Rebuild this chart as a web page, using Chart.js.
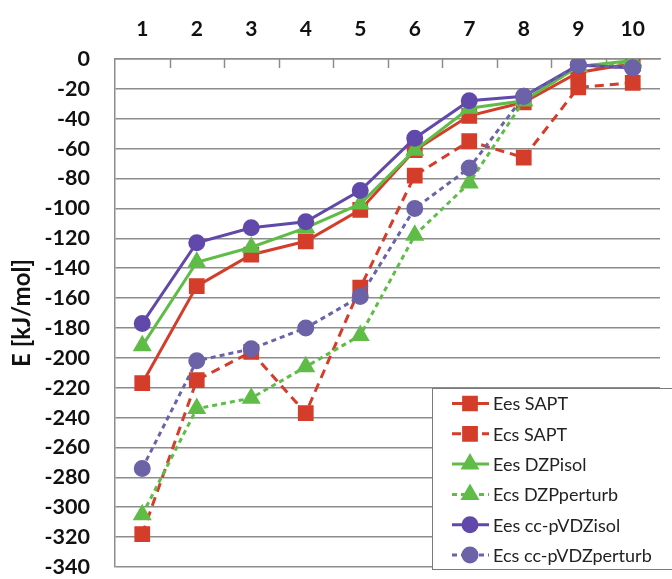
<!DOCTYPE html>
<html lang="en">
<head>
    <meta charset="UTF-8">
    <title>E [kJ/mol]</title>
    <script src="https://cdn.jsdelivr.net/npm/chart.js"></script>
    <style>
        body {
            margin: 0;
            padding: 0;
            background: white;
        }
        #wrap {
            width: 672px;
            height: 579px;
        }
    </style>
</head>
<body>
<div id="wrap">
    <canvas id="energyChart" width="672" height="579"></canvas>
</div>

<script>
    const categories = ["1", "2", "3", "4", "5", "6", "7", "8", "9", "10"];
    const seriesNames = ["Ees SAPT", "Ecs SAPT", "Ees DZPisol", "Ecs DZPperturb", "Ees cc-pVDZisol", "Ecs cc-pVDZperturb"];
    const eesSapt = [-217, -152, -131, -122, -101, -61, -38, -29, -9, -3];
    const ecsSapt = [-318, -215, -196, -237, -153, -78, -55, -66, -19, -16];
    const eesDzp = [-192, -136, -126, -113, -97, -61, -33, -28, -5, -1];
    const ecsDzp = [-305, -234, -227, -206, -185, -118, -83, -28, -5, -2];
    const eesCc = [-177, -123, -113, -109, -88, -53, -28, -25, -4, -6];
    const ecsCc = [-274, -202, -194, -180, -159, -100, -73, -25, -4, -6];
    const yTicks = [0, -20, -40, -60, -80, -100, -120, -140, -160, -180, -200, -220, -240, -260, -280, -300, -320, -340];

    const red = "#d43d2a";
    const green = "#5fbd47";
    const purple = "#6049aa";
    const purple2 = "#6b62a8";
    const gridGray = "#8c8c8c";

    function makeSet(i, data, color, dash, shape, radius) {
        return {
            label: seriesNames[i],
            data: data,
            borderColor: color,
            backgroundColor: color,
            pointBackgroundColor: color,
            pointBorderColor: color,
            borderWidth: 3,
            borderDash: dash,
            pointStyle: shape,
            pointRadius: radius,
            pointHoverRadius: radius,
            tension: 0,
            order: 10 - i
        };
    }

    const datasets = [
        makeSet(0, eesSapt, red, [], "rect", 9),
        makeSet(1, ecsSapt, red, [9, 6], "rect", 9),
        makeSet(2, eesDzp, green, [], "triangle", 8),
        makeSet(3, ecsDzp, green, [5, 4], "triangle", 8),
        makeSet(4, eesCc, purple, [], "circle", 7),
        makeSet(5, ecsCc, purple2, [5, 4], "circle", 7)
    ];

    // tick marks on the top axis point down into the plot
    const innerTicks = {
        id: "innerTicks",
        beforeDatasetsDraw(chart) {
            const xs = chart.scales.x;
            const ctx = chart.ctx;
            const top = chart.chartArea.top;
            ctx.save();
            ctx.strokeStyle = gridGray;
            ctx.lineWidth = 1.5;
            for (let i = 1; i < categories.length; i++) {
                const x = Math.round((xs.getPixelForValue(i - 1) + xs.getPixelForValue(i)) / 2) + 0.5;
                ctx.beginPath();
                ctx.moveTo(x, top);
                ctx.lineTo(x, top + 9);
                ctx.stroke();
            }
            ctx.restore();
        }
    };

    // boxed legend in the lower right corner
    const boxLegend = {
        id: "boxLegend",
        afterDraw(chart) {
            const ctx = chart.ctx;
            const left = 432.5, top = 388.5, right = 680, bottom = 569.5;
            const rowGap = 30.3;
            ctx.save();
            ctx.fillStyle = "white";
            ctx.fillRect(left, top, right - left, bottom - top);
            ctx.strokeStyle = "#7a7a7a";
            ctx.lineWidth = 1;
            ctx.strokeRect(left, top, right - left, bottom - top);
            chart.data.datasets.forEach((ds, i) => {
                const y = top + 15 + i * rowGap;
                ctx.strokeStyle = ds.borderColor;
                ctx.lineWidth = 3;
                ctx.setLineDash(ds.borderDash.length ? ds.borderDash : []);
                ctx.beginPath();
                ctx.moveTo(452, y);
                ctx.lineTo(489, y);
                ctx.stroke();
                ctx.setLineDash([]);
                Chart.helpers.drawPoint(ctx, {
                    pointStyle: ds.pointStyle,
                    radius: ds.pointRadius,
                    borderWidth: 1,
                    rotation: 0
                }, 470, y);
                ctx.fillStyle = ds.borderColor;
                ctx.fill();
                ctx.fillStyle = "#222";
                ctx.font = "18px Lato";
                ctx.textBaseline = "middle";
                ctx.textAlign = "left";
                ctx.fillText(ds.label, 493, y + 1);
            });
            ctx.restore();
        }
    };

    new Chart(document.getElementById("energyChart").getContext("2d"), {
        type: "line",
        data: { labels: categories, datasets: datasets },
        options: {
            responsive: false,
            animation: false,
            layout: { padding: { left: 0, right: -3, top: 0, bottom: 10 } },
            plugins: {
                legend: { display: false },
                tooltip: { enabled: false }
            },
            scales: {
                x: {
                    position: "top",
                    offset: true,
                    grid: { display: false, drawTicks: false },
                    border: { display: true, color: gridGray, width: 1.5 },
                    ticks: {
                        color: "#111",
                        font: { family: "Lato", size: 21, weight: "bold" },
                        padding: 17
                    },
                    afterFit(scale) {
                        scale.height = 59;
                        scale.paddingLeft = 0;
                        scale.paddingRight = 0;
                    }
                },
                y: {
                    min: -340,
                    max: 0,
                    afterBuildTicks(scale) {
                        scale.ticks = yTicks.map(v => ({ value: v }));
                    },
                    grid: { color: gridGray, lineWidth: 1.5, drawTicks: false },
                    border: { display: true, color: gridGray, width: 1.5 },
                    ticks: {
                        color: "#111",
                        font: { family: "Lato", size: 21.5, weight: "bold" },
                        padding: 25
                    },
                    title: {
                        display: true,
                        text: "E [kJ/mol]",
                        color: "#111",
                        font: { family: "Lato", size: 24, weight: "bold" },
                        padding: { top: 8, bottom: 0 }
                    },
                    afterFit(scale) {
                        scale.width = 115;
                        scale.paddingTop = 0;
                        scale.paddingBottom = 0;
                    }
                }
            }
        },
        plugins: [innerTicks, boxLegend]
    });
</script>
</body>
</html>
